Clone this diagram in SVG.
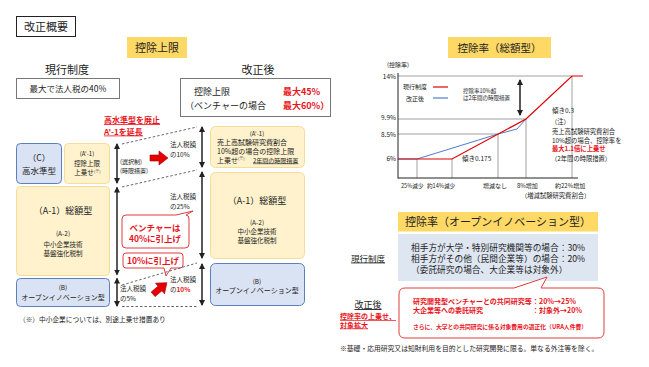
<svg xmlns="http://www.w3.org/2000/svg" width="649" height="367" viewBox="0 0 649 367">
<defs>
<style>
text{font-family:"Noto Sans CJK JP","Noto Sans",sans-serif;fill:#222}
.m{text-anchor:middle}
.e{text-anchor:end}
.r{fill:#E8141C;font-weight:bold}
.u{text-decoration:underline}
.hdr{fill:#FFD966}
.yb{fill:#FFF2CC;stroke:#F5DC98;stroke-width:1}
.bb{fill:#DAE3F3;stroke:#5B7FBF;stroke-width:1}
.blk{stroke:#222;stroke-width:1.5;fill:none;marker-start:url(#ah);marker-end:url(#ah)}
.dash{stroke:#555;stroke-width:0.9;stroke-dasharray:2.5 2;fill:none}
.grid{stroke:#888;stroke-width:0.8;fill:none}
.rarr{fill:#E60000;stroke:#A00000;stroke-width:0.6}
.call{fill:#fff;stroke:#E03C3C;stroke-width:1}
</style>
<marker id="ah" viewBox="0 0 6 6" refX="5" refY="3" markerWidth="6" markerHeight="6" markerUnits="userSpaceOnUse" orient="auto-start-reverse">
<path d="M0,0 L6,3 L0,6 z" fill="#222"/>
</marker>
</defs>
<rect width="649" height="367" fill="#fff"/>

<g id="title">
<rect x="16.5" y="16.5" width="59" height="20" fill="#fff" stroke="#222"/>
<text x="46" y="30.5" class="m" font-size="11">改正概要</text>
</g>

<g id="hdr-limit">
<rect x="127" y="37" width="60" height="21" class="hdr"/>
<text x="157" y="51.5" class="m" font-size="11">控除上限</text>
</g>

<g id="current">
<text x="67" y="73.5" class="m" font-size="11">現行制度</text>
<rect x="16.5" y="78.5" width="103" height="20" fill="#fff" stroke="#777"/>
<text x="68" y="91.5" class="m" font-size="8.5">最大で法人税の40%</text>
</g>

<g id="revised">
<text x="258" y="73.5" class="m" font-size="11">改正後</text>
<rect x="180.5" y="78.5" width="150" height="38" fill="#fff" stroke="#777"/>
<text x="194" y="95" font-size="9">控除上限</text>
<text x="283" y="95" font-size="9" class="r">最大45%</text>
<text x="185" y="108.5" font-size="9">（ベンチャーの場合</text>
<text x="283" y="108.5" font-size="9" class="r">最大60%）</text>
</g>

<g id="note-abolish">
<text x="104" y="123" font-size="8" class="r u">高水準型を廃止</text>
<text x="104" y="134.5" font-size="8" class="r u">A'-1を延長</text>
</g>

<g id="C-left">
<rect x="16.5" y="143.5" width="45" height="40" rx="4" class="bb"/>
<text x="39" y="161" class="m" font-size="8.5">（C）</text>
<text x="39" y="173.5" class="m" font-size="8.5">高水準型</text>
</g>

<g id="A1p-left">
<rect x="64.5" y="143.5" width="45" height="40" rx="4" class="yb"/>
<text x="87" y="156" class="m" font-size="6">(A'-1)</text>
<text x="87" y="165.5" class="m" font-size="6.5">控除上限</text>
<text x="84" y="175" class="m" font-size="6.5">上乗せ</text>
<text x="94" y="172.5" font-size="4">(※)</text>
</g>

<g id="A1-left">
<rect x="16.5" y="186.5" width="93" height="89" rx="4" class="yb"/>
<text x="63" y="213.5" class="m" font-size="9">（A-1）総額型</text>
<text x="63" y="235.5" class="m" font-size="6.5">(A-2)</text>
<text x="63" y="246.5" class="m" font-size="6.5">中小企業技術</text>
<text x="63" y="255.5" class="m" font-size="6.5">基盤強化税制</text>
</g>

<g id="B-left">
<rect x="16.5" y="278.5" width="93" height="28" rx="4" class="bb"/>
<text x="63" y="289.5" class="m" font-size="6.5">(B)</text>
<text x="63" y="299.5" class="m" font-size="7">オープンイノベーション型</text>
</g>

<g id="A1p-right">
<rect x="210.5" y="126.5" width="94" height="41" rx="5" class="yb"/>
<text x="257" y="136" class="m" font-size="6">(A'-1)</text>
<text x="217" y="145.3" font-size="7">売上高試験研究費割合</text>
<text x="217" y="153.8" font-size="7">10%超の場合の控除上限</text>
<text x="217" y="162.5" font-size="7">上乗せ</text>
<text x="238" y="160" font-size="4">(※)</text>
<text x="253" y="162.5" font-size="6" class="u">2年間の時限措置</text>
</g>

<g id="A1-right">
<rect x="210.5" y="172.5" width="94" height="86" rx="5" class="yb"/>
<text x="257" y="203.5" class="m" font-size="9">（A-1）総額型</text>
<text x="257" y="224.5" class="m" font-size="6.5">(A-2)</text>
<text x="257" y="234" class="m" font-size="6.5">中小企業技術</text>
<text x="257" y="242.5" class="m" font-size="6.5">基盤強化税制</text>
</g>

<g id="B-right">
<rect x="210.5" y="263.5" width="94" height="42" rx="5" class="bb"/>
<text x="257" y="283.5" class="m" font-size="6.5">(B)</text>
<text x="257" y="292.5" class="m" font-size="7">オープンイノベーション型</text>
</g>

<g id="left-labels">
<text x="120" y="164" font-size="6">(選択制)</text>
<text x="120" y="172.5" font-size="6">(時限措置)</text>
<text x="170" y="147" font-size="6.5">法人税額</text>
<text x="170" y="156.5" font-size="6.5">の10%</text>
<text x="170" y="199" font-size="6.5">法人税額</text>
<text x="170" y="208.5" font-size="6.5">の25%</text>
<text x="170" y="282" font-size="6.5">法人税額</text>
<text x="170" y="291.5" font-size="6.5">の<tspan class="r">10%</tspan></text>
<text x="120" y="291" font-size="6.5">法人税額</text>
<text x="120" y="300.5" font-size="6.5">の5%</text>
</g>

<g id="callout-venture">
<path class="call" d="M126,215 L176,215 L193,211 L186,215 Q189,215 189,219 L189,244 Q189,248 185,248 L126,248 Q122,248 122,244 L122,219 Q122,215 126,215 Z"/>
<text x="155" y="230.5" class="m r" font-size="8.5">ベンチャーは</text>
<text x="155" y="242" class="m r" font-size="8.5">40%に引上げ</text>
</g>

<g id="callout-10">
<path class="call" d="M126,253 L180,253 Q183,253 183,256 L183,265 Q183,268 180,268 L171,268 L166,276 L164,268 L126,268 Q123,268 123,265 L123,256 Q123,253 126,253 Z"/>
<text x="153" y="264" class="m r" font-size="8.5">10%に引上げ</text>
</g>

<g id="connectors">
<line x1="117" y1="144" x2="117" y2="183" class="blk"/>
<line x1="117" y1="187.5" x2="117" y2="274.5" class="blk"/>
<line x1="117" y1="278.5" x2="117" y2="306" class="blk"/>
<line x1="202" y1="127" x2="202" y2="167" class="blk"/>
<line x1="202" y1="172" x2="202" y2="258" class="blk"/>
<line x1="202" y1="264" x2="202" y2="305" class="blk"/>
<line x1="122" y1="144" x2="197" y2="127" class="dash"/>
<line x1="122" y1="187" x2="197" y2="170" class="dash"/>
<line x1="122" y1="285" x2="197" y2="263" class="dash"/>
<line x1="122" y1="306.5" x2="197" y2="306.5" class="dash"/>
<path class="rarr" transform="translate(159,158)" d="M-9,-3 L0,-3 L0,-7 L9,0 L0,7 L0,3 L-9,3 Z"/>
<path class="rarr" transform="translate(160,288.5) rotate(-40)" d="M-9,-3 L0,-3 L0,-7 L9,0 L0,7 L0,3 L-9,3 Z"/>
</g>

<g id="footnote-left">
<text x="19" y="321.5" font-size="6.7">（※）中小企業については、別途上乗せ措置あり</text>
</g>

<g id="hdr-rate">
<rect x="448" y="37" width="103" height="21" class="hdr"/>
<text x="499.5" y="51.5" class="m" font-size="10.5">控除率（総額型）</text>
</g>

<g id="chart">
<line x1="398" y1="76" x2="572" y2="76" class="grid"/>
<line x1="398" y1="119" x2="526" y2="119" class="grid"/>
<line x1="398" y1="134" x2="498" y2="134" class="grid"/>
<line x1="417" y1="159" x2="417" y2="178" class="grid"/>
<line x1="452" y1="159" x2="452" y2="178" class="grid"/>
<line x1="498" y1="134" x2="498" y2="178" class="grid"/>
<line x1="526" y1="119" x2="526" y2="178" class="grid"/>
<line x1="572" y1="76" x2="572" y2="178" class="grid"/>
<polyline points="398,159 417,159 498,134 517,129 526,119" fill="none" stroke="#4F7CC8" stroke-width="1"/>
<polyline points="398,159 452,159 526,119 572,76 583,76" fill="none" stroke="#E00000" stroke-width="1.2"/>
<line x1="398" y1="73" x2="398" y2="178.5" stroke="#222" stroke-width="1"/>
<line x1="398" y1="178" x2="578" y2="178" stroke="#222" stroke-width="1"/>
<line x1="520" y1="80" x2="520" y2="115" class="blk"/>
<text x="387" y="67" font-size="6">(控除率)</text>
<text x="396" y="79" class="e" font-size="6.5">14%</text>
<text x="396" y="120" class="e" font-size="6.5">9.9%</text>
<text x="396" y="137" class="e" font-size="6.5">8.5%</text>
<text x="396" y="161" class="e" font-size="6.5">6%</text>
<text x="403" y="89" font-size="6">現行制度</text>
<line x1="433" y1="87" x2="448" y2="87" stroke="#E00000" stroke-width="1.2"/>
<text x="406" y="100.5" font-size="6">改正後</text>
<line x1="433" y1="98" x2="448" y2="98" stroke="#4F7CC8" stroke-width="1.2"/>
<text x="463" y="93" font-size="5.5">控除率10%超</text>
<text x="463" y="99.5" font-size="5.5">は2年間の時限措置</text>
<text x="552" y="112.5" font-size="6.5">傾き0.3</text>
<text x="462" y="160.5" font-size="6.5">傾き0.175</text>
<text x="551" y="124" font-size="6.3">（注）</text>
<text x="552" y="134" font-size="6.3">売上高試験研究費割合</text>
<text x="552" y="142.5" font-size="6.3">10%超の場合、控除率を</text>
<text x="552" y="151" font-size="6.3" class="r">最大1.1倍に上乗せ</text>
<text x="551" y="160.5" font-size="6.3">（2年間の時限措置）</text>
<text x="401" y="188" font-size="5.6">25%減少</text>
<text x="427" y="188" font-size="5.6">約14%減少</text>
<text x="483" y="188" font-size="6">増減なし</text>
<text x="517" y="188" font-size="6">8%増加</text>
<text x="555" y="188" font-size="6">約22%増加</text>
<text x="521" y="198" font-size="6.3">（増減試験研究費割合）</text>
</g>

<g id="hdr-open">
<rect x="398" y="212" width="200" height="19.5" class="hdr"/>
<text x="498" y="225.5" class="m" font-size="11">控除率（オープンイノベーション型）</text>
</g>

<g id="open-current">
<text x="368" y="261.5" class="m u" font-size="8.5">現行制度</text>
<rect x="398" y="234" width="200" height="47" fill="#DEE6F2"/>
<text x="411" y="250.5" font-size="8.7">相手方が大学・特別研究機関等の場合：30%</text>
<text x="411" y="261.5" font-size="8.7">相手方がその他（民間企業等）の場合：20%</text>
<text x="411" y="272.5" font-size="8.7">（委託研究の場合、大企業等は対象外）</text>
</g>

<g id="open-revised">
<text x="368" y="308" class="m u" font-size="9">改正後</text>
<text x="340" y="319" font-size="7" class="r u">控除率の上乗せ、</text>
<text x="340" y="327.5" font-size="7" class="r u">対象拡大</text>
<path class="call" d="M405,288 L514,288 L547,277 L541,288 L598,288 Q604,288 604,294 L604,332 Q604,338 598,338 L405,338 Q399,338 399,332 L399,294 Q399,288 405,288 Z"/>
<text x="413" y="304.3" font-size="7" class="r">研究開発型ベンチャーとの共同研究等</text>
<text x="532" y="304.3" font-size="7" class="r">：20%→25%</text>
<text x="413" y="312.8" font-size="7" class="r">大企業等への委託研究</text>
<text x="532" y="312.8" font-size="7" class="r">：対象外→20%</text>
<text x="413" y="329" font-size="5.8" class="r">さらに、大学との共同研究に係る対象費用の適正化（URA人件費）</text>
</g>

<g id="footnote-right">
<text x="340" y="350.5" font-size="6.8">※基礎・応用研究又は知財利用を目的とした研究開発に限る。単なる外注等を除く。</text>
</g>
</svg>
